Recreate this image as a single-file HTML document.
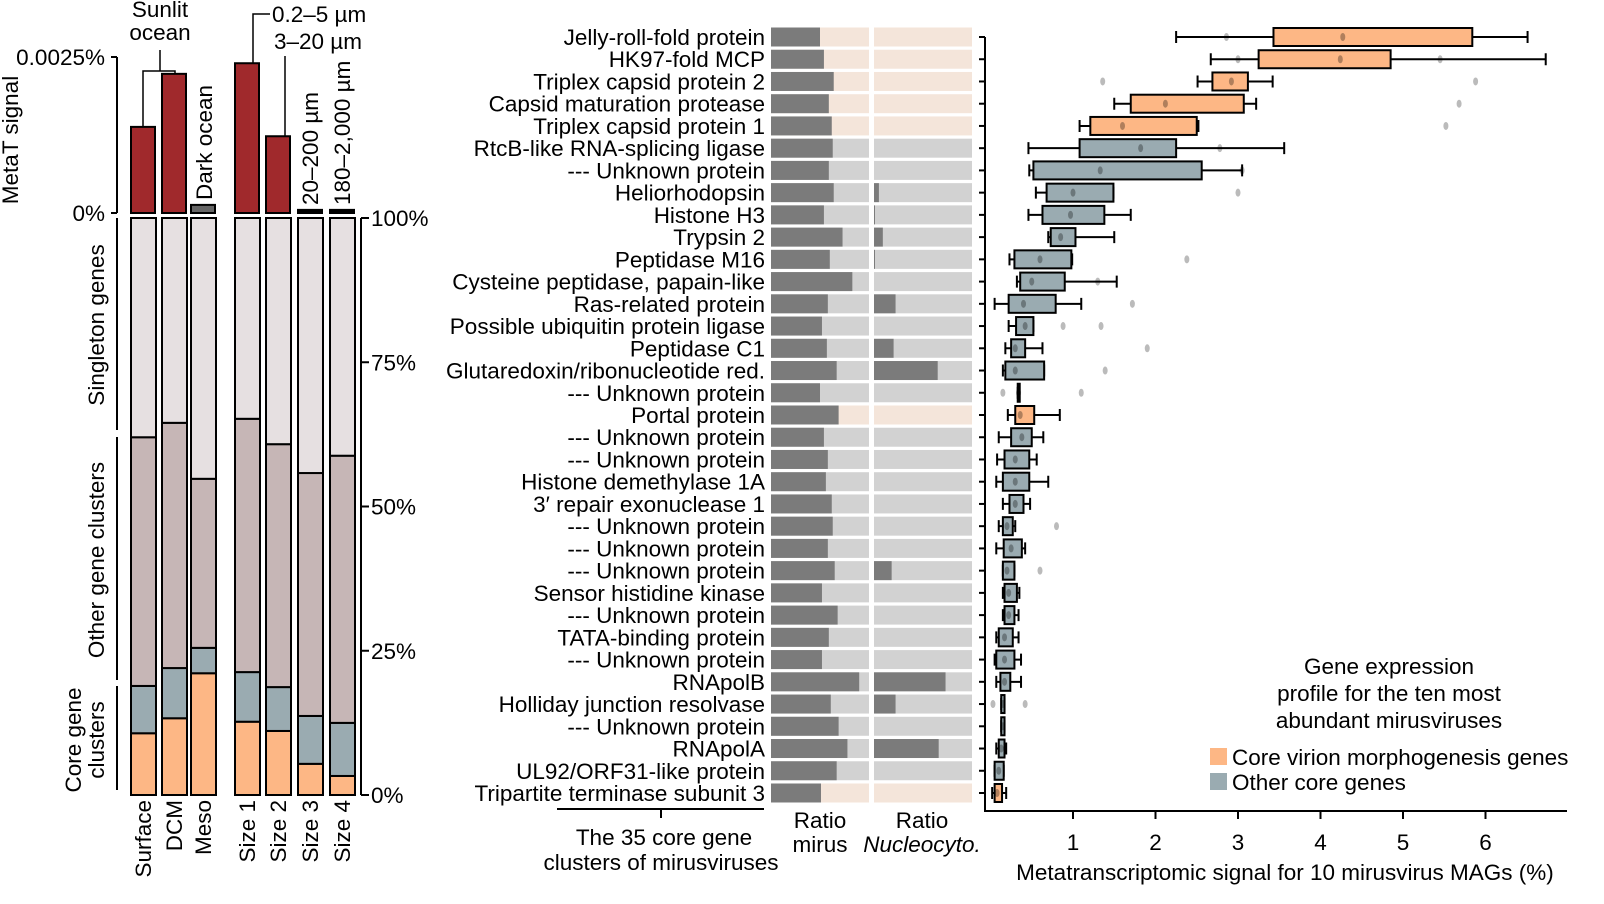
<!DOCTYPE html>
<html><head><meta charset="utf-8">
<style>
html,body{margin:0;padding:0;background:#fff;}
svg{display:block;font-family:"Liberation Sans",Arial,sans-serif;}
</style></head>
<body>
<svg id="fig" width="1604" height="904" viewBox="0 0 1604 904" xmlns="http://www.w3.org/2000/svg">
<g id="left"></g>
<g id="mid"></g>
<g id="right"></g>
</svg>
<script>
// ---------- LEFT PANEL DATA ----------
const sampleLabels = ["Surface","DCM","Meso","Size 1","Size 2","Size 3","Size 4"];
const metaTSignal = [0.00138,0.00223,0.00013,0.0024,0.00123,0.00005,0.00005];
const singletonFrac = [0.38,0.355,0.452,0.348,0.392,0.442,0.412];
const coreOtherFrac = [0.082,0.087,0.044,0.086,0.076,0.083,0.092];
const coreVirionFrac = [0.107,0.133,0.211,0.127,0.111,0.054,0.033];
const metaTTicks = ["0%","0.0025%"];
const pctTicks = ["0%","25%","50%","75%","100%"];

// ---------- GENE / BOX DATA ----------
const genes = ["Jelly-roll-fold protein","HK97-fold MCP","Triplex capsid protein 2","Capsid maturation protease","Triplex capsid protein 1","RtcB-like RNA-splicing ligase","--- Unknown protein","Heliorhodopsin","Histone H3","Trypsin 2","Peptidase M16","Cysteine peptidase, papain-like","Ras-related protein","Possible ubiquitin protein ligase","Peptidase C1","Glutaredoxin/ribonucleotide red.","--- Unknown protein","Portal protein","--- Unknown protein","--- Unknown protein","Histone demethylase 1A","3\u2032 repair exonuclease 1","--- Unknown protein","--- Unknown protein","--- Unknown protein","Sensor histidine kinase","--- Unknown protein","TATA-binding protein","--- Unknown protein","RNApolB","Holliday junction resolvase","--- Unknown protein","RNApolA","UL92/ORF31-like protein","Tripartite terminase subunit 3"];
const isVirion = [1,1,1,1,1,0,0,0,0,0,0,0,0,0,0,0,0,1,0,0,0,0,0,0,0,0,0,0,0,0,0,0,0,0,1];
const ratioMirus = [0.50,0.54,0.64,0.59,0.62,0.63,0.59,0.64,0.54,0.73,0.60,0.83,0.58,0.52,0.57,0.67,0.50,0.69,0.54,0.58,0.56,0.62,0.63,0.58,0.65,0.52,0.68,0.59,0.52,0.90,0.61,0.69,0.78,0.67,0.51];
const ratioNucleo = [0,0,0,0,0,0,0,0.05,0.01,0.09,0.01,0,0.22,0,0.20,0.65,0,0,0,0,0,0,0,0,0.18,0,0,0,0,0.73,0.22,0,0.66,0,0];
const whiskLo = [2.25,2.67,2.51,1.50,1.08,0.46,0.47,0.55,0.46,0.70,0.23,0.32,0.05,0.22,0.18,0.15,0.33,0.21,0.10,0.08,0.07,0.15,0.10,0.07,0.15,0.15,0.15,0.07,0.05,0.07,0.13,0.13,0.07,0.05,0.02];
const q1 = [3.43,3.25,2.69,1.70,1.21,1.08,0.52,0.68,0.63,0.73,0.29,0.36,0.22,0.31,0.25,0.18,0.33,0.30,0.25,0.17,0.15,0.23,0.15,0.16,0.15,0.17,0.17,0.10,0.07,0.12,0.13,0.13,0.10,0.05,0.05];
const median = [4.27,4.24,2.92,2.12,1.60,1.82,1.33,1.00,0.97,0.85,0.60,0.50,0.40,0.42,0.30,0.30,0.34,0.36,0.38,0.30,0.30,0.30,0.20,0.25,0.20,0.22,0.22,0.17,0.17,0.17,0.15,0.15,0.13,0.10,0.08];
const q3 = [5.84,4.85,3.12,3.07,2.50,2.25,2.56,1.49,1.38,1.03,0.98,0.90,0.79,0.52,0.42,0.65,0.35,0.53,0.50,0.47,0.47,0.40,0.27,0.38,0.29,0.32,0.29,0.27,0.29,0.24,0.17,0.17,0.17,0.16,0.14];
const whiskHi = [6.51,6.73,3.42,3.22,2.52,3.56,3.05,1.49,1.70,1.50,0.99,1.53,1.10,0.52,0.63,0.65,0.35,0.84,0.64,0.56,0.70,0.48,0.30,0.42,0.29,0.35,0.34,0.34,0.37,0.37,0.17,0.17,0.19,0.16,0.19];
const outliers = [[2.86],[3.0,5.45],[1.36,5.88],[5.68],[5.52],[2.78],[3.05],[3.0],[],[],[2.38],[1.3],[1.72],[0.88,1.34],[1.9],[1.39],[0.15,1.1],[],[],[],[],[],[0.8],[],[0.6],[],[],[],[],[],[0.03,0.42],[],[],[],[]];
const xTicks = [1,2,3,4,5,6];

const FS = 22.5;
const NS="http://www.w3.org/2000/svg";
function mk(parent,tag,attrs,text){const e=document.createElementNS(NS,tag);for(const k in attrs)e.setAttribute(k,attrs[k]);if(text!==undefined)e.textContent=text;parent.appendChild(e);return e;}

// ---------- LEFT PANEL ----------
const L=document.getElementById('left');
const colX=[131,162,191,235,266,298,330], colW=24;
const yTop0=213, yTop1=57;
const ySig=v=>yTop0-(v/0.0025)*(yTop0-yTop1);
const yP0=795, yP1=218;
const yPct=f=>yP0-f*(yP0-yP1);
const C={red:"#a0292c",sing:"#e6e0e1",other:"#c6b6b6",core:"#9aabb1",orange:"#fdb785"};
mk(L,'line',{x1:117,y1:yTop1,x2:117,y2:yTop0,stroke:'#000','stroke-width':2,});
metaTTicks.forEach((t,i)=>{const y=i?yTop1:yTop0;
 mk(L,'line',{x1:111,y1:y,x2:117,y2:y,stroke:'#000','stroke-width':2,});
 mk(L,'text',{x:105,y:y+8,'text-anchor':'end','font-size':FS,},t);});
mk(L,'text',{transform:'translate(18,140) rotate(-90)','text-anchor':'middle','font-size':FS,},'MetaT signal');
sampleLabels.forEach((s,i)=>{
 const x=colX[i];
 const y=ySig(metaTSignal[i]);
 const fill=i==2?'#666':(i>=5?'#000':C.red);
 const b=mk(L,'rect',{x:x,y:y,width:colW,height:Math.max(yTop0-y,2),fill:fill,stroke:'#000','stroke-width':2});
 
 
 const core=coreVirionFrac[i], other=coreOtherFrac[i], sing=singletonFrac[i];
 const segs=[[0,core,C.orange,'core-virion'],[core,core+other,C.core,'other-core'],[core+other,1-sing,C.other,'other-clusters'],[1-sing,1,C.sing,'singleton']];
 segs.forEach(sg=>{const r=mk(L,'rect',{x:x,y:yPct(sg[1]),width:colW+1,height:yPct(sg[0])-yPct(sg[1]),fill:sg[2],stroke:'#000','stroke-width':2});
  
  });
 mk(L,'text',{transform:`translate(${x+colW/2+8},800) rotate(-90)`,'text-anchor':'end','font-size':FS,},s);
});
mk(L,'line',{x1:361,y1:yP1,x2:361,y2:yP0,stroke:'#000','stroke-width':2,});
pctTicks.forEach((t,i)=>{const y=yPct(i/4);
 mk(L,'line',{x1:361,y1:y,x2:369,y2:y,stroke:'#000','stroke-width':2,});
 mk(L,'text',{x:371,y:y+8,'font-size':FS,},t);});
[[218,430],[437,680],[686,790]].forEach(s=>mk(L,'line',{x1:117,y1:s[0],x2:117,y2:s[1],stroke:'#000','stroke-width':2,}));
mk(L,'text',{transform:'translate(104,325) rotate(-90)','text-anchor':'middle','font-size':FS,},'Singleton genes');
mk(L,'text',{transform:'translate(104,560) rotate(-90)','text-anchor':'middle','font-size':FS,},'Other gene clusters');
mk(L,'text',{transform:'translate(81,740) rotate(-90)','text-anchor':'middle','font-size':FS,},'Core gene');
mk(L,'text',{transform:'translate(104,740) rotate(-90)','text-anchor':'middle','font-size':FS,},'clusters');
mk(L,'text',{x:160,y:17,'text-anchor':'middle','font-size':FS,},'Sunlit');
mk(L,'text',{x:160,y:40,'text-anchor':'middle','font-size':FS,},'ocean');
mk(L,'path',{d:'M143,127 V71 H175 V74 M160,71 V50',fill:'none',stroke:'#000','stroke-width':1.5,});
mk(L,'path',{d:'M253,63 V14 H270 M285,136 V56',fill:'none',stroke:'#000','stroke-width':1.5,});
mk(L,'text',{x:272,y:22,'font-size':FS,},'0.2\u20135 \u00b5m');
mk(L,'text',{x:274,y:49,'font-size':FS,},'3\u201320 \u00b5m');
mk(L,'text',{transform:'translate(212,200) rotate(-90)','font-size':FS,},'Dark ocean');
mk(L,'text',{transform:'translate(318,205) rotate(-90)','font-size':FS,},'20\u2013200 \u00b5m');
mk(L,'text',{transform:'translate(350,205) rotate(-90)','font-size':FS,},'180\u20132,000 \u00b5m');

// ---------- MIDDLE ----------
const M=document.getElementById('mid');
const rowY=i=>37+i*22.235;
const mx=771, nx=874, bw=98, bh=19;
genes.forEach((g,i)=>{
 const y=rowY(i);
 mk(M,'text',{x:765,y:y+8,'text-anchor':'end','font-size':FS,},g);
 const lt=isVirion[i]?'#f4e5da':'#d2d2d2';
 const r1=mk(M,'rect',{x:mx,y:y-bh/2,width:bw,height:bh,fill:lt});
 
 
 const r2=mk(M,'rect',{x:mx,y:y-bh/2,width:bw*ratioMirus[i],height:bh,fill:'#7b7b7b'});
 
 
 const r3=mk(M,'rect',{x:nx,y:y-bh/2,width:bw,height:bh,fill:lt});
 
 
 const r4=mk(M,'rect',{x:nx,y:y-bh/2,width:bw*ratioNucleo[i],height:bh,fill:'#7b7b7b'});
 
 
});
mk(M,'path',{d:'M557,809 H764 M661,809 V818',fill:'none',stroke:'#000','stroke-width':2,});
mk(M,'text',{x:664,y:845,'text-anchor':'middle','font-size':FS,},'The 35 core gene');
mk(M,'text',{x:661,y:870,'text-anchor':'middle','font-size':FS,},'clusters of mirusviruses');
mk(M,'text',{x:820,y:828,'text-anchor':'middle','font-size':FS,},'Ratio');
mk(M,'text',{x:820,y:852,'text-anchor':'middle','font-size':FS,},'mirus');
mk(M,'text',{x:922,y:828,'text-anchor':'middle','font-size':FS,},'Ratio');
mk(M,'text',{x:922,y:852,'text-anchor':'middle','font-size':FS,'font-style':'italic',},'Nucleocyto.');

// ---------- RIGHT BOX PLOT ----------
const R=document.getElementById('right');
const x0=990.5, ppu=82.5;
const xs=v=>x0+v*ppu;
mk(R,'line',{x1:985,y1:37,x2:985,y2:811,stroke:'#000','stroke-width':2,});
mk(R,'line',{x1:984,y1:811,x2:1567,y2:811,stroke:'#000','stroke-width':2,});
genes.forEach((g,i)=>mk(R,'line',{x1:979,y1:rowY(i),x2:985,y2:rowY(i),stroke:'#000','stroke-width':2,}));
xTicks.forEach(t=>{
 mk(R,'line',{x1:xs(t),y1:811,x2:xs(t),y2:819,stroke:'#000','stroke-width':2,});
 mk(R,'text',{x:xs(t),y:850,'text-anchor':'middle','font-size':FS,},String(t));});
mk(R,'text',{x:1285,y:880,'text-anchor':'middle','font-size':FS,},'Metatranscriptomic signal for 10 mirusvirus MAGs (%)');
genes.forEach((g,i)=>{
 const y=rowY(i), h=18;
 const fill=isVirion[i]?'#fdb785':'#9aabb1';
 outliers[i].forEach(v=>{const o=mk(R,'ellipse',{cx:xs(v),cy:y,rx:2.5,ry:4,fill:'#bbb'});
  
  });
 const w=mk(R,'path',{d:`M${xs(whiskLo[i])},${y} H${xs(whiskHi[i])} M${xs(whiskLo[i])},${y-6} V${y+6} M${xs(whiskHi[i])},${y-6} V${y+6}`,stroke:'#000','stroke-width':2,fill:'none'});
 
 
 const b=mk(R,'rect',{x:xs(q1[i]),y:y-h/2,width:Math.max(xs(q3[i])-xs(q1[i]),2),height:h,fill:fill,stroke:'#000','stroke-width':2});
 
 
 const m=mk(R,'ellipse',{cx:xs(median[i]),cy:y,rx:2.5,ry:4,fill:'#000','fill-opacity':0.3});
 
 
});
['Gene expression','profile for the ten most','abundant mirusviruses'].forEach((t,k)=>mk(R,'text',{x:1389,y:674+k*27,'text-anchor':'middle','font-size':FS,},t));
mk(R,'rect',{x:1210,y:748,width:17,height:17,fill:'#fdb785',});
mk(R,'text',{x:1232,y:765,'font-size':FS,},'Core virion morphogenesis genes');
mk(R,'rect',{x:1210,y:773,width:17,height:17,fill:'#9aabb1',});
mk(R,'text',{x:1232,y:790,'font-size':FS,},'Other core genes');
</script>
</body></html>
